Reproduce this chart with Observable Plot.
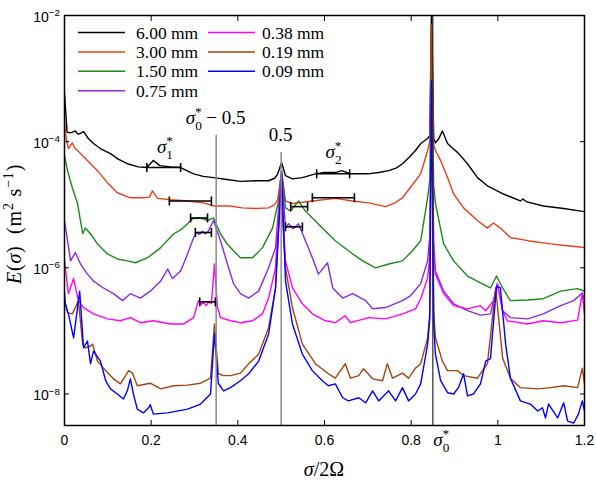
<!DOCTYPE html>
<html>
<head>
<meta charset="utf-8">
<script src="https://cdn.jsdelivr.net/npm/d3@7"></script>
<script src="https://cdn.jsdelivr.net/npm/@observablehq/plot@0.6"></script>
<style>
  body { margin: 0; background: #fff; }
  #chart { width: 596px; height: 484px; }
</style>
</head>
<body>
<div id="chart"></div>
<script>
// Energy spectra E(σ) against normalised frequency σ/2Ω, one curve per grain size.
// Each series is a list of [σ/2Ω, log10 E] samples.

const s600 = [[0,-3.24],[0.006,-3.85],[0.014,-3.86],[0.025,-3.83],[0.031,-3.88],[0.037,-3.87],[0.044,-3.84],[0.055,-3.95],[0.067,-4.03],[0.085,-4.12],[0.106,-4.19],[0.125,-4.28],[0.145,-4.35],[0.17,-4.40],[0.19,-4.41],[0.205,-4.30],[0.22,-4.38],[0.245,-4.40],[0.268,-4.41],[0.298,-4.51],[0.32,-4.55],[0.344,-4.57],[0.375,-4.60],[0.406,-4.63],[0.44,-4.62],[0.471,-4.62],[0.485,-4.58],[0.492,-4.51],[0.501,-4.33],[0.51,-4.54],[0.526,-4.59],[0.549,-4.57],[0.579,-4.51],[0.6,-4.49],[0.625,-4.49],[0.64,-4.46],[0.66,-4.51],[0.70,-4.51],[0.725,-4.49],[0.748,-4.46],[0.765,-4.42],[0.78,-4.35],[0.795,-4.25],[0.81,-4.14],[0.822,-4.03],[0.838,-3.95],[0.843,-3.90],[0.847,-1.8],[0.852,-3.95],[0.856,-4.02],[0.864,-3.95],[0.872,-3.83],[0.884,-4.03],[0.895,-4.10],[0.907,-4.17],[0.93,-4.35],[0.953,-4.57],[0.976,-4.70],[1.013,-4.83],[1.052,-4.94],[1.058,-4.91],[1.065,-4.95],[1.105,-5.02],[1.152,-5.06],[1.2,-5.11]];

const s300 = [[0,-3.70],[0.004,-3.95],[0.009,-4.11],[0.018,-4.02],[0.024,-4.10],[0.03,-4.14],[0.053,-4.30],[0.076,-4.46],[0.099,-4.65],[0.122,-4.81],[0.152,-4.89],[0.182,-4.89],[0.196,-4.88],[0.203,-4.78],[0.215,-4.90],[0.245,-4.92],[0.284,-4.94],[0.321,-4.97],[0.344,-5.02],[0.383,-5.02],[0.41,-5.05],[0.441,-5.06],[0.471,-5.05],[0.485,-5.00],[0.492,-4.92],[0.501,-4.48],[0.51,-4.94],[0.526,-4.98],[0.572,-4.94],[0.625,-4.90],[0.665,-4.94],[0.702,-4.97],[0.741,-5.03],[0.76,-4.98],[0.78,-4.89],[0.81,-4.62],[0.822,-4.51],[0.838,-4.14],[0.843,-4.0],[0.847,-2.15],[0.852,-4.05],[0.856,-4.14],[0.868,-4.30],[0.884,-4.57],[0.898,-4.83],[0.921,-5.05],[0.953,-5.25],[0.976,-5.37],[0.99,-5.29],[1.006,-5.37],[1.029,-5.52],[1.069,-5.57],[1.122,-5.62],[1.161,-5.65],[1.2,-5.68]];

const s150 = [[0,-4.22],[0.007,-4.46],[0.018,-4.73],[0.03,-4.98],[0.042,-5.46],[0.048,-5.37],[0.06,-5.46],[0.076,-5.62],[0.099,-5.78],[0.122,-5.86],[0.145,-5.89],[0.164,-5.92],[0.192,-5.84],[0.222,-5.68],[0.252,-5.46],[0.268,-5.40],[0.284,-5.30],[0.296,-5.22],[0.307,-5.21],[0.318,-5.22],[0.33,-5.25],[0.344,-5.21],[0.36,-5.46],[0.375,-5.62],[0.39,-5.73],[0.406,-5.84],[0.434,-5.84],[0.457,-5.68],[0.48,-5.37],[0.494,-4.94],[0.501,-4.46],[0.51,-5.05],[0.522,-5.10],[0.54,-4.94],[0.556,-5.10],[0.572,-5.21],[0.595,-5.37],[0.625,-5.57],[0.655,-5.73],[0.688,-5.89],[0.718,-6.00],[0.748,-5.94],[0.78,-5.89],[0.803,-5.73],[0.822,-5.57],[0.838,-4.89],[0.843,-4.6],[0.847,-2.70],[0.852,-4.7],[0.856,-4.98],[0.875,-5.62],[0.898,-5.89],[0.93,-6.13],[0.96,-6.24],[0.983,-6.32],[0.997,-6.13],[1.011,-6.32],[1.029,-6.52],[1.069,-6.51],[1.105,-6.49],[1.145,-6.37],[1.184,-6.33],[1.2,-6.37]];

const s075 = [[0,-5.25],[0.014,-5.89],[0.025,-5.76],[0.037,-5.94],[0.053,-6.10],[0.067,-6.21],[0.09,-6.32],[0.113,-6.41],[0.134,-6.52],[0.152,-6.41],[0.175,-6.48],[0.198,-6.37],[0.222,-6.21],[0.238,-6.02],[0.249,-6.17],[0.268,-6.05],[0.284,-5.78],[0.298,-5.52],[0.305,-5.45],[0.312,-5.47],[0.318,-5.42],[0.324,-5.46],[0.33,-5.44],[0.344,-5.25],[0.36,-5.57],[0.376,-5.94],[0.39,-6.25],[0.406,-6.41],[0.425,-6.48],[0.448,-6.37],[0.471,-6.00],[0.487,-5.68],[0.501,-4.46],[0.51,-5.37],[0.517,-5.30],[0.528,-5.38],[0.54,-5.30],[0.556,-5.57],[0.572,-5.84],[0.586,-6.10],[0.607,-5.92],[0.619,-6.32],[0.642,-6.48],[0.665,-6.41],[0.695,-6.52],[0.711,-6.65],[0.741,-6.63],[0.78,-6.52],[0.799,-6.44],[0.822,-6.25],[0.838,-5.89],[0.843,-5.5],[0.847,-3.0],[0.852,-5.6],[0.856,-6.05],[0.875,-6.37],[0.898,-6.57],[0.93,-6.68],[0.96,-6.75],[0.983,-6.73],[0.999,-6.25],[1.011,-6.68],[1.029,-6.79],[1.069,-6.81],[1.105,-6.73],[1.145,-6.60],[1.175,-6.52],[1.195,-6.40],[1.2,-6.52]];

const s038 = [[0,-5.89],[0.009,-6.41],[0.021,-6.17],[0.032,-6.52],[0.044,-6.63],[0.067,-6.73],[0.099,-6.81],[0.129,-6.84],[0.152,-6.79],[0.175,-6.87],[0.205,-6.84],[0.245,-6.89],[0.275,-6.89],[0.298,-6.79],[0.309,-6.52],[0.315,-6.58],[0.321,-6.55],[0.327,-6.60],[0.333,-6.54],[0.339,-6.57],[0.346,-5.94],[0.353,-6.63],[0.36,-6.79],[0.383,-6.84],[0.406,-6.87],[0.434,-6.84],[0.457,-6.73],[0.471,-6.48],[0.487,-6.0],[0.499,-4.57],[0.51,-5.89],[0.526,-6.32],[0.549,-6.57],[0.572,-6.73],[0.602,-6.84],[0.625,-6.87],[0.648,-6.76],[0.66,-6.87],[0.702,-6.79],[0.741,-6.81],[0.78,-6.73],[0.81,-6.65],[0.822,-6.49],[0.838,-6.16],[0.843,-5.8],[0.847,-3.5],[0.852,-5.8],[0.856,-6.10],[0.875,-6.41],[0.898,-6.60],[0.93,-6.65],[0.96,-6.60],[0.972,-6.68],[0.99,-6.52],[0.999,-6.25],[1.011,-6.68],[1.022,-6.84],[1.069,-6.89],[1.105,-6.84],[1.145,-6.87],[1.184,-6.83],[1.195,-6.40],[1.2,-6.73]];

const s019 = [[0,-6.52],[0.007,-6.71],[0.018,-6.73],[0.025,-6.63],[0.032,-6.52],[0.042,-7.21],[0.048,-7.27],[0.06,-7.24],[0.065,-7.21],[0.076,-7.48],[0.09,-7.59],[0.102,-7.68],[0.113,-7.76],[0.129,-7.84],[0.148,-7.63],[0.157,-7.67],[0.168,-7.87],[0.198,-7.83],[0.222,-7.92],[0.252,-7.87],[0.284,-7.86],[0.314,-7.83],[0.337,-7.75],[0.346,-6.89],[0.355,-7.68],[0.367,-7.71],[0.383,-7.71],[0.406,-7.67],[0.425,-7.52],[0.448,-7.37],[0.471,-6.95],[0.487,-6.32],[0.499,-4.73],[0.51,-6.0],[0.526,-6.63],[0.549,-7.21],[0.579,-7.52],[0.609,-7.68],[0.625,-7.75],[0.648,-7.52],[0.66,-7.75],[0.679,-7.71],[0.69,-7.60],[0.711,-7.76],[0.734,-7.79],[0.745,-7.52],[0.757,-7.75],[0.78,-7.67],[0.794,-7.75],[0.81,-7.59],[0.822,-7.52],[0.838,-7.11],[0.843,-6.7],[0.847,-2.14],[0.852,-6.7],[0.856,-7.11],[0.872,-7.48],[0.884,-7.63],[0.907,-7.63],[0.921,-7.71],[0.953,-7.75],[0.976,-7.52],[0.995,-6.32],[1.011,-7.43],[1.029,-7.75],[1.052,-7.90],[1.092,-7.92],[1.122,-7.90],[1.152,-7.87],[1.184,-7.90],[1.195,-7.59],[1.2,-7.84]];

const s009 = [[0,-6.41],[0.002,-6.57],[0.009,-6.73],[0.021,-7.11],[0.035,-6.37],[0.044,-7.27],[0.053,-7.16],[0.06,-7.52],[0.067,-7.32],[0.083,-7.48],[0.095,-7.79],[0.106,-7.92],[0.122,-8.0],[0.136,-8.08],[0.145,-7.95],[0.152,-7.76],[0.159,-8.0],[0.168,-8.24],[0.182,-8.30],[0.194,-8.22],[0.198,-8.17],[0.205,-8.32],[0.238,-8.30],[0.284,-8.24],[0.314,-8.16],[0.337,-8.0],[0.346,-7.05],[0.355,-7.83],[0.367,-7.95],[0.383,-7.90],[0.406,-7.79],[0.425,-7.68],[0.448,-7.48],[0.471,-7.05],[0.487,-6.32],[0.501,-4.51],[0.51,-6.21],[0.526,-6.89],[0.549,-7.37],[0.572,-7.63],[0.595,-7.79],[0.609,-7.87],[0.625,-7.84],[0.642,-8.06],[0.655,-8.11],[0.679,-8.06],[0.695,-8.14],[0.711,-7.95],[0.725,-8.11],[0.748,-7.95],[0.764,-8.11],[0.78,-7.90],[0.794,-8.11],[0.81,-8.0],[0.822,-7.84],[0.838,-7.21],[0.843,-6.8],[0.847,-3.03],[0.852,-6.9],[0.856,-7.37],[0.868,-7.79],[0.884,-7.98],[0.898,-8.0],[0.909,-7.90],[0.921,-7.68],[0.93,-8.03],[0.944,-8.0],[0.96,-7.84],[0.972,-7.48],[0.983,-7.44],[0.997,-6.29],[1.006,-6.32],[1.018,-7.21],[1.029,-7.75],[1.052,-8.11],[1.075,-8.16],[1.092,-8.27],[1.103,-8.22],[1.11,-8.38],[1.117,-8.16],[1.138,-8.38],[1.152,-8.14],[1.161,-8.43],[1.175,-8.46],[1.186,-8.32],[1.195,-8.11],[1.2,-8.27]];

const sizes  = ["6.00 mm", "3.00 mm", "1.50 mm", "0.75 mm", "0.38 mm", "0.19 mm", "0.09 mm"];
const colors = ["#000000", "#e8401c", "#1a8a1a", "#8a2be2", "#ff00ff", "#a5430f", "#0000ff"];
const seriesList = [s600, s300, s150, s075, s038, s019, s009];

// Averaging bands around σ1* and σ2*: [x1, x2, log10 E]
const bandsS1 = [[0.19, 0.268, -4.41], [0.242, 0.339, -4.94], [0.291, 0.33, -5.21], [0.302, 0.339, -5.44], [0.312, 0.348, -6.54]];
const bandsS2 = [[0.582, 0.658, -4.51], [0.572, 0.669, -4.89], [0.522, 0.561, -5.03], [0.51, 0.549, -5.35]];

const xTicks = [0, 0.2, 0.4, 0.6, 0.8, 1, 1.2];
const yTicks = [1e-2, 1e-4, 1e-6, 1e-8];
const yExp   = ["−2", "−4", "−6", "−8"];
const yMin = 10 ** -8.5, yMax = 1e-2;

// Reference frequencies: σ0* − 0.5, 0.5, σ0*
const sigma0 = 0.85;
const guides = [
  {x: sigma0 - 0.5, top: 10 ** -3.9},
  {x: 0.5, top: 10 ** -4.17}
];

const rows = seriesList.flatMap((s, k) => s.map(([x, lg]) => ({x, E: 10 ** lg, k})));
const bands = [...bandsS1, ...bandsS2].map(([x1, x2, lg]) => ({x1, x2, E: 10 ** lg}));
const caps = bands.flatMap(b => [{x: b.x1, E: b.E}, {x: b.x2, E: b.E}]);

// Vertical bar symbol for the band end caps
const vbar = {
  draw(ctx, size) {
    const h = Math.sqrt(size / Math.PI);
    ctx.moveTo(0, -h);
    ctx.lineTo(0, h);
  }
};

const SANS = "'Liberation Sans', Arial, sans-serif";
const SERIF = "'Liberation Serif', 'Times New Roman', serif";

const plot = Plot.plot({
  width: 596,
  height: 484,
  marginLeft: 64,
  marginRight: 12,
  marginTop: 15,
  marginBottom: 59,
  style: {fontFamily: SANS, fontSize: "14px", background: "#fff", color: "#000"},
  x: {domain: [0, 1.2], label: null},
  y: {type: "log", domain: [yMin, yMax], label: null},
  marks: [
    ...seriesList.map((s, k) =>
      Plot.line(rows.filter(d => d.k === k), {x: "x", y: "E", stroke: colors[k], strokeWidth: 1.4, clip: true})
    ),
    Plot.ruleX(guides, {x: "x", y1: "top", y2: yMin, stroke: "#8c8c8c", strokeWidth: 1.5}),
    Plot.ruleX([sigma0], {stroke: "#2a2a2a", strokeWidth: 1.2}),
    Plot.ruleY(bands, {x1: "x1", x2: "x2", y: "E", stroke: "#000", strokeWidth: 1.6}),
    Plot.dot(caps, {x: "x", y: "E", symbol: vbar, r: 4.5, stroke: "#000", strokeWidth: 1.6, fill: "none"}),
    // inward ticks on all four sides
    Plot.axisX({anchor: "bottom", ticks: xTicks, tickSize: 5, dy: -5, fill: "none", label: null}),
    Plot.axisX({anchor: "top", ticks: xTicks, tickSize: 5, dy: 5, fill: "none", label: null}),
    Plot.axisY({anchor: "left", ticks: yTicks, tickSize: 5, dx: 5, fill: "none", label: null}),
    Plot.axisY({anchor: "right", ticks: yTicks, tickSize: 5, dx: -5, fill: "none", label: null}),
    // x tick labels
    Plot.axisX({anchor: "bottom", ticks: xTicks, tickSize: 0, tickPadding: 10, stroke: "none",
                fontSize: 14, tickFormat: d => String(d), label: null}),
    Plot.frame({stroke: "#000", strokeWidth: 1.5})
  ]
});

document.getElementById("chart").append(plot);

const svg = d3.select(plot);
const sx = plot.scale("x"), sy = plot.scale("y");
const X = v => sx.apply(v), Y = v => sy.apply(v);

// Text with italic, subscript and superscript runs
function rich(x, y, parts, {size = 16, family = SERIF, anchor = "middle", rotate = 0, spacing = 0} = {}) {
  const t = svg.append("text")
    .attr("x", x).attr("y", y)
    .attr("font-family", family).attr("font-size", size)
    .attr("text-anchor", anchor).attr("fill", "#000");
  if (spacing) t.attr("letter-spacing", spacing);
  if (rotate) t.attr("transform", `rotate(${rotate},${x},${y})`);
  let shift = 0;
  for (const p of parts) {
    const target = p.sub ? 0.3 * size : p.sup ? -0.42 * size : 0;
    const ts = t.append("tspan").text(p.t).attr("dy", target - shift);
    shift = target;
    if (p.sub || p.sup) ts.attr("font-size", size * 0.7);
    if (p.it) ts.attr("font-style", "italic");
    if (p.dx) ts.attr("dx", p.dx);
  }
  return t;
}

const sigmaStar = (n, size) => [
  {t: "σ", it: true},
  {t: n, sub: true},
  {t: "*", sup: true, dx: -0.36 * size}
];

// y tick labels as powers of ten
yTicks.forEach((v, i) => {
  rich(60, Y(v) + 7, [{t: "10"}, {t: yExp[i], sup: true}], {size: 14, family: SANS, anchor: "end"});
});

// annotations
rich(X(sigma0 - 0.5), 124, [...sigmaStar("0", 19), {t: " − 0.5"}], {size: 19});
rich(X(0.5), 141, [{t: "0.5"}], {size: 19});
rich(X(0.233), 153, sigmaStar("1", 19), {size: 19});
rich(X(0.622), 158, sigmaStar("2", 19), {size: 19});
rich(X(sigma0) + 1, 446, sigmaStar("0", 19), {size: 19, anchor: "start"});

// axis titles
rich(X(0.6), 476, [{t: "σ", it: true}, {t: "/2Ω"}], {size: 20});
rich(21, 224, [
  {t: "E", it: true}, {t: "("}, {t: "σ", it: true}, {t: ")  (m"},
  {t: "2", sup: true}, {t: " s"}, {t: "−1", sup: true}, {t: ")"}
], {size: 20, rotate: -90, spacing: 0.8});

// legend, two columns inside the frame
const legendCols = [{x: 78, tx: 136, n: 4}, {x: 208, tx: 262, n: 3}];
const legend = svg.append("g").attr("class", "legend");
let idx = 0;
legendCols.forEach(col => {
  for (let r = 0; r < col.n; r++, idx++) {
    const yy = 32.5 + r * 19.4;
    legend.append("line")
      .attr("x1", col.x).attr("x2", col.x + 47)
      .attr("y1", yy).attr("y2", yy)
      .attr("stroke", colors[idx]).attr("stroke-width", 1.5);
    legend.append("text")
      .attr("x", col.tx).attr("y", yy + 6)
      .attr("text-anchor", "start")
      .attr("font-family", SERIF).attr("font-size", 17.5)
      .attr("fill", "#000")
      .text(sizes[idx]);
  }
});
</script>
</body>
</html>
